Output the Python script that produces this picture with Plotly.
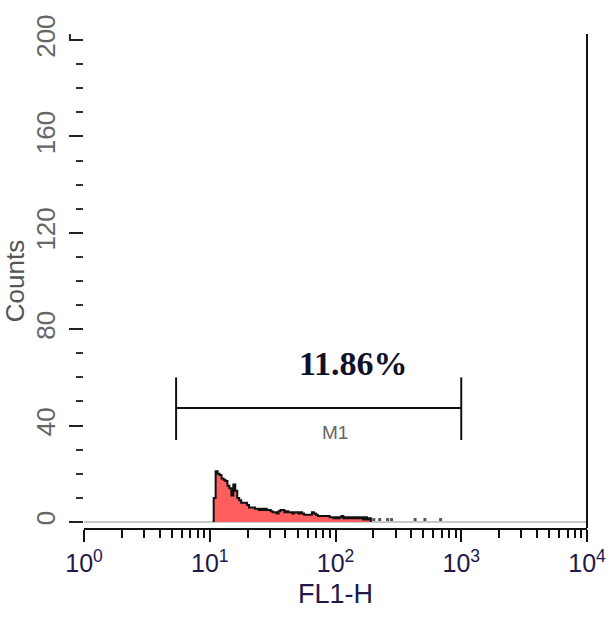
import plotly.graph_objects as go

# ---------------- data ----------------
n_channels = 256            # channels across 4 decades (log scale)
n_decades = 4
start_channel = 66          # first channel of the contiguous histogram body
counts = [10, 21, 20, 19.5, 18, 17.5, 17, 15, 14, 11, 15.5, 13, 10, 9, 8, 8, 8, 7,
          6, 6, 6, 5.5, 5.5, 5, 5.5, 5, 5.5, 5, 5, 4.5, 4, 4, 3.5, 4.5, 5, 5, 4,
          4.5, 4, 4, 3.5, 4, 4, 3.5, 4, 3.5, 3, 3, 3, 3, 4, 3.5, 3, 2.5, 2.5,
          2.5, 2.5, 2.5, 2.5, 2, 2, 1.5, 2, 1.5, 2, 2.5, 1.5, 2, 1.5, 2, 1.5,
          2, 1.5, 2, 1.5, 2, 1, 2, 1, 1.5]
isolated_channels = [147, 150, 154, 156, 168, 173, 181]
isolated_counts = [1, 1, 1, 1, 1, 1, 1]

gate_name = "M1"
gate_bounds = [5.4, 1000]
gate_level = 47.3
gate_tick_span = [34, 60]
gate_percent = "11.86%"

y_tickvals = [0, 40, 80, 120, 160, 200]
x_tickvals = [1, 10, 100, 1000, 10000]
x_ticktext = ["10<sup>0</sup>", "10<sup>1</sup>", "10<sup>2</sup>", "10<sup>3</sup>", "10<sup>4</sup>"]
x_title = "FL1-H"
y_title = "Counts"

# ---------------- build ----------------
def edge(k):
    return 10 ** (n_decades * k / n_channels)

hx = [edge(start_channel)]
hy = [0]
for i, c in enumerate(counts):
    hx.append(edge(start_channel + i))
    hy.append(c)
end_k = start_channel + len(counts)
hx += [edge(end_k), edge(end_k)]
hy += [counts[-1], 0]

iso_x = [10 ** (n_decades * (k + 0.5) / n_channels) for k in isolated_channels]

minor_x = [m * 10 ** d for d in range(4) for m in range(2, 10)]

fig = go.Figure()

# baseline (zero) line
fig.add_trace(go.Scatter(x=[1, 10000], y=[0, 0], mode="lines",
                         line=dict(color="#c8c8c8", width=2), hoverinfo="skip"))

fig.add_trace(go.Scatter(x=hx, y=hy, mode="lines", line_shape="hv",
                         line=dict(color="#111111", width=2),
                         fill="tozeroy", fillcolor="#ff5e5e", hoverinfo="skip"))

fig.add_trace(go.Scatter(x=iso_x, y=isolated_counts, mode="markers",
                         marker=dict(color="#555555", size=3, symbol="square"),
                         hoverinfo="skip"))

# gate bracket
fig.add_trace(go.Scatter(x=gate_bounds, y=[gate_level, gate_level], mode="lines",
                         line=dict(color="#111111", width=2), hoverinfo="skip"))
for gx in gate_bounds:
    fig.add_trace(go.Scatter(x=[gx, gx], y=gate_tick_span, mode="lines",
                             line=dict(color="#111111", width=2), hoverinfo="skip"))

fig.add_annotation(x=2.147, y=65.6, xref="x", yref="y", text="<b>" + gate_percent + "</b>",
                   showarrow=False,
                   font=dict(family="Liberation Serif", size=34, color="#10102a"))
fig.add_annotation(x=1.996, y=37.3, xref="x", yref="y", text=gate_name,
                   showarrow=False,
                   font=dict(family="Liberation Sans", size=19, color="#666666"))

# right border
fig.add_shape(type="line", xref="paper", yref="paper", x0=1, x1=1, y0=0, y1=1,
              line=dict(color="#111111", width=2))
# small corner hook at top of the count axis
fig.add_shape(type="line", xref="paper", yref="y", x0=-0.028, x1=-0.028, y0=200, y1=202.5,
              line=dict(color="#222222", width=2))

fig.update_layout(
    width=610, height=621,
    margin=dict(l=84, r=23, t=34, b=93),
    paper_bgcolor="white", plot_bgcolor="white",
    showlegend=False,
    xaxis=dict(type="log", range=[0, 4], showgrid=False, zeroline=False,
               automargin=False,
               showline=True, linecolor="#111111", linewidth=2,
               ticks="outside", ticklen=12, tickwidth=2, tickcolor="#111111",
               tickvals=x_tickvals, ticktext=x_ticktext,
               tickfont=dict(family="Liberation Sans", size=25, color="#22184a"),
               minor=dict(tickvals=minor_x, ticks="outside", ticklen=8,
                          tickwidth=2, tickcolor="#111111", showgrid=False),
               title=dict(text=x_title, standoff=8,
                          font=dict(family="Liberation Sans", size=27, color="#22184a"))),
    yaxis=dict(range=[-2.5, 202.5], showgrid=False, zeroline=False, showline=False,
               automargin=False,
               ticks="outside", ticklen=14, tickwidth=2, tickcolor="#222222",
               tickvals=y_tickvals, tickangle=-90, ticklabelstandoff=4,
               tickfont=dict(family="Liberation Sans", size=26, color="#666666"),
               minor=dict(dtick=10, ticks="outside", ticklen=7, tickwidth=2,
                          tickcolor="#333333", showgrid=False),
               title=dict(text=y_title, standoff=6,
                          font=dict(family="Liberation Sans", size=26, color="#555555"))),
)

fig.write_html("out.html", config={"displayModeBar": False},
               post_script="document.body.style.margin='0';document.body.style.overflow='hidden';")
